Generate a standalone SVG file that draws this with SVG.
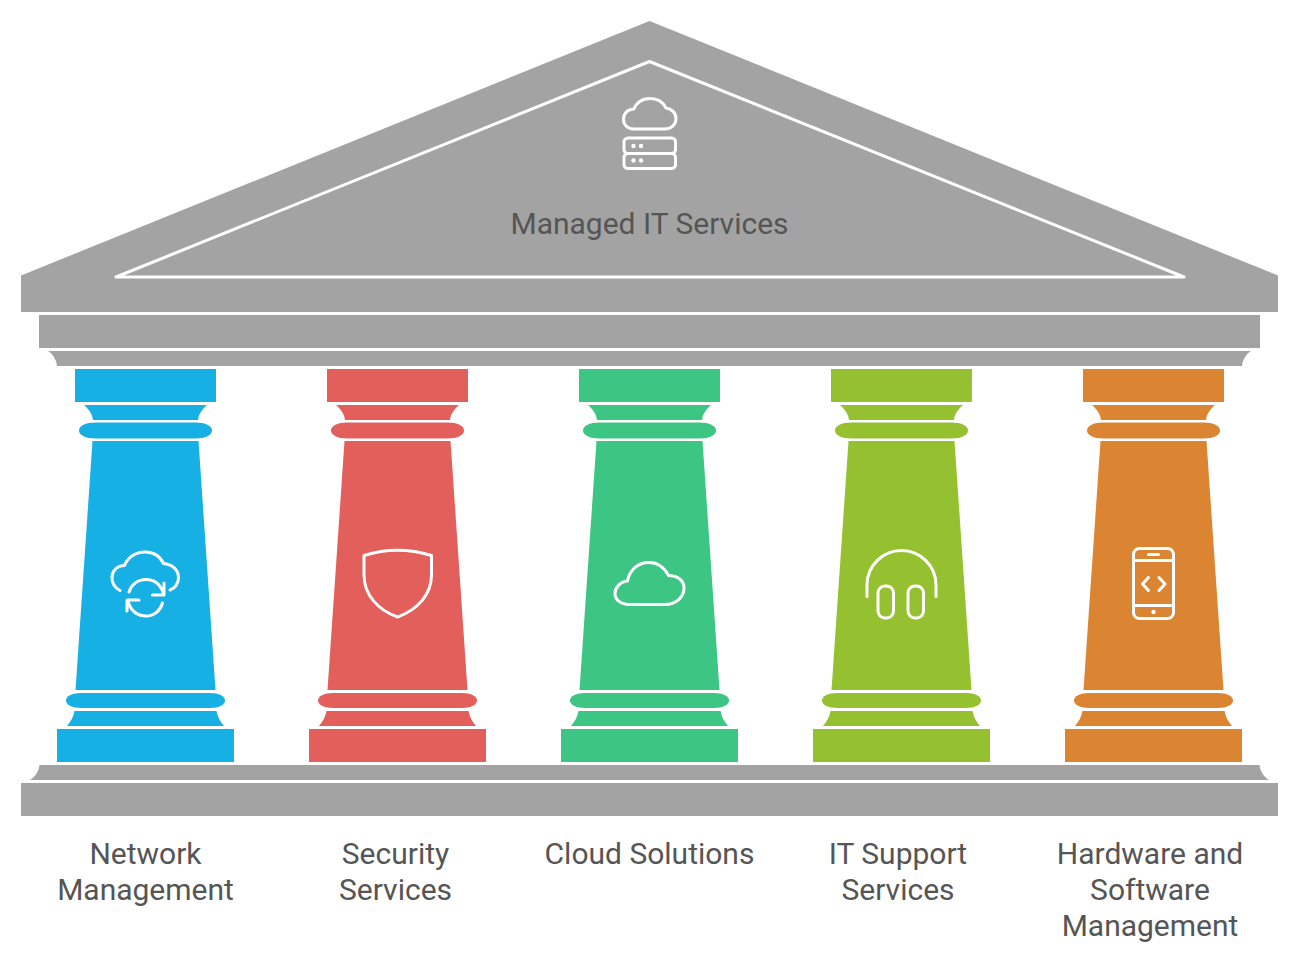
<svg xmlns="http://www.w3.org/2000/svg" xmlns:xlink="http://www.w3.org/1999/xlink" width="1299" height="962" viewBox="0 0 1299 962">
<style>
.g{fill:#a3a3a3}
.i{fill:none;stroke:#fff;stroke-width:3;stroke-linecap:round;stroke-linejoin:round}
.d{fill:#fff}
text{font-family:Roboto,"Liberation Sans",sans-serif;font-size:30px;fill:#555;text-anchor:middle}
</style>
<defs>
<g id="pillar">
<rect x="-70.500" y="369" width="141" height="33"/>
<path d="M-61.500 405H61.500C57 409 53 414 52.500 420H-52.500C-53 414 -57 409 -61.500 405Z"/>
<path d="M-50 422.500H50C60 422.500 66.500 426 66.500 430.500C66.500 435 60 438.500 50 438.500H-50C-60 438.500 -66.500 435 -66.500 430.500C-66.500 426 -60 422.500 -50 422.500Z"/>
<path d="M-53 441H53L70 690H-70Z"/>
<path d="M-64 693H64C74 693 79.500 696.500 79.500 700.500C79.500 704.500 74 708 64 708H-64C-74 708 -79.500 704.500 -79.500 700.500C-79.500 696.500 -74 693 -64 693Z"/>
<path d="M-71 711H71C72 717 75 722 78.500 726H-78.500C-75 722 -72 717 -71 711Z"/>
<rect x="-88.500" y="729" width="177" height="33"/>
</g>
</defs>
<g id="roof">
<path class="g" d="M649.500 21L1278 275.500V312H21V275.500Z"/>
<path d="M649.500 61.500L1184 277H116Z" fill="none" stroke="#fff" stroke-width="3" stroke-linejoin="round"/>
<path class="i" d="M634 129H665C672 129 676 124 676 118.500C676 113 671.500 108.500 666 108C663 102 657 98.500 650 98.500C642 98.500 636 103 634 109C627 109 623.500 114 623.500 119.500C623.500 125 628 129 634 129Z"/>
<rect class="i" x="624" y="138" width="51.500" height="15.500" rx="4"/>
<rect class="i" x="624" y="153.500" width="51.500" height="15" rx="4"/>
<circle class="d" cx="633.500" cy="146" r="2.200"/><circle class="d" cx="641" cy="146" r="2.200"/>
<circle class="d" cx="633.500" cy="160.500" r="2.200"/><circle class="d" cx="641" cy="160.500" r="2.200"/>
<text x="649.500" y="234">Managed IT Services</text>
</g>
<g id="entablature">
<rect class="g" x="39" y="315" width="1221" height="33"/>
<path class="g" d="M48 351H1251C1246 354 1242.500 360 1242 366H57C56.500 360 53 354 48 351Z"/>
</g>
<g id="base">
<path class="g" d="M39.500 765H1259.500C1260 771 1264 777 1269 780H30C35 777 39 771 39.500 765Z"/>
<rect class="g" x="21" y="783" width="1257" height="33"/>
</g>
<g id="connectors"></g>
<g id="network-management">
<use xlink:href="#pillar" href="#pillar" transform="translate(145.500 0)" fill="#17b0e4"/>
<path class="i" d="M120 590.500C115 588 112 583 112 577.500C112 571 117 565.500 124.500 565.500C128 557 136 552 145 552C153 552 160 556 163.500 563.500C172 564 178.500 570 178.500 577.500C178.500 583.500 175 588.500 170 590"/>
<path class="i" d="M129 592C131 585 137.500 579.500 146 579.500C154 579.500 160.500 584.500 163.500 593.500M164 583V595H152.500"/>
<path class="i" d="M162.500 603C160.500 610.500 154 616 146 616C137.500 616 131 611 128 601.500M127 611V600H139"/>
<text x="145.500" y="864">Network</text>
<text x="145.500" y="900">Management</text>
</g>
<g id="security-services">
<use xlink:href="#pillar" href="#pillar" transform="translate(397.500 0)" fill="#e35f5c"/>
<path class="i" d="M364 555.500C386 548.500 409 548.500 431.500 555.500V575C431.500 595 417 610 397.500 617C378 610 364 595 364 575Z"/>
<text x="395.500" y="864">Security</text>
<text x="395.500" y="900">Services</text>
</g>
<g id="cloud-solutions">
<use xlink:href="#pillar" href="#pillar" transform="translate(649.500 0)" fill="#3cc583"/>
<path class="i" d="M629 604.500H665C676 604.500 684 597 684 588C684 580 677 575.500 668.500 575.500C664 567 657 562.500 649 562.500C638 562.500 629.500 570 627.500 581C620 581.500 615 588 615 593.500C615 600 621 604.500 629 604.500Z"/>
<text x="649.500" y="864">Cloud Solutions</text>
</g>
<g id="it-support-services">
<use xlink:href="#pillar" href="#pillar" transform="translate(901.500 0)" fill="#95c131"/>
<path class="i" d="M867 596.500V585A34.500 34.500 0 0 1 936 585V596.500"/>
<rect class="i" x="878" y="586" width="15.500" height="32" rx="7"/>
<rect class="i" x="908" y="586" width="15.500" height="32" rx="7"/>
<text x="898" y="864">IT Support</text>
<text x="898" y="900">Services</text>
</g>
<g id="hardware-software">
<use xlink:href="#pillar" href="#pillar" transform="translate(1153.500 0)" fill="#db8533"/>
<rect class="i" x="1133.500" y="548.500" width="40" height="70" rx="6"/>
<path class="i" d="M1133.500 560.500H1173.500M1133.500 605.500H1173.500M1148.500 554.500H1158.500M1148.500 577.500L1142.500 584L1148.500 590.500M1159 577.500L1165 584L1159 590.500"/>
<circle class="d" cx="1153.500" cy="612" r="2.200"/>
<text x="1150" y="864">Hardware and</text>
<text x="1150" y="900">Software</text>
<text x="1150" y="936">Management</text>
</g>
</svg>
